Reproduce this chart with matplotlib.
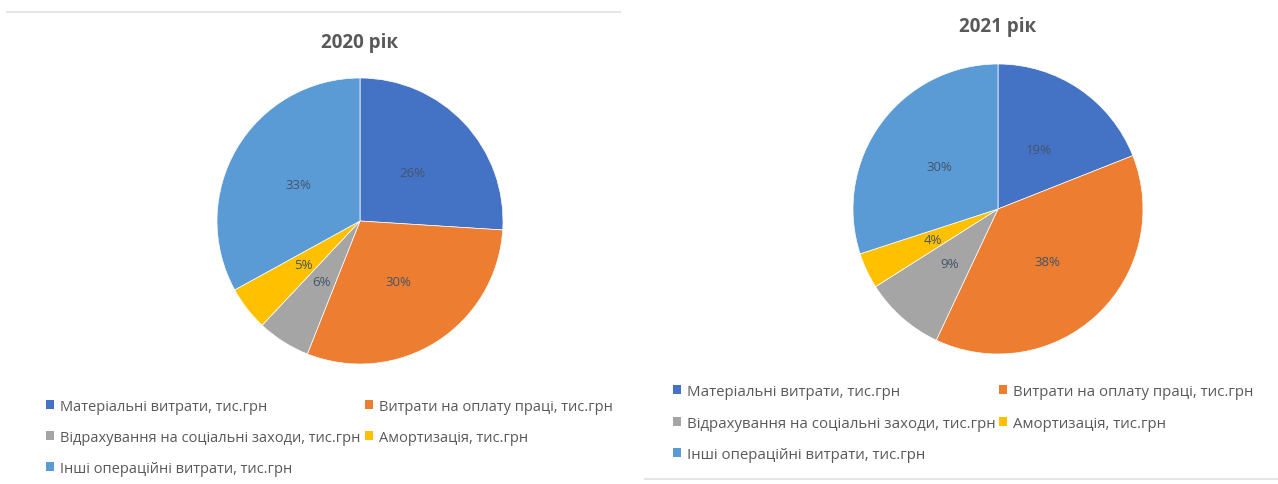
import matplotlib.pyplot as plt
from matplotlib.patches import Patch
from matplotlib.lines import Line2D

plt.rcParams['font.family'] = ['Open Sans', 'DejaVu Sans']

categories = [
    'Матеріальні витрати, тис.грн',
    'Витрати на оплату праці, тис.грн',
    'Відрахування на соціальні заходи, тис.грн',
    'Амортизація, тис.грн',
    'Інші операційні витрати, тис.грн',
]
shares_2020 = [26, 30, 6, 5, 33]
shares_2021 = [19, 38, 9, 4, 30]
titles = ['2020 рік', '2021 рік']

colors = ['#4472C4', '#ED7D31', '#A5A5A5', '#FFC000', '#5B9BD5']
W, H = 1278, 485


def px_axes(fig, cx, cy, r):
    # square axes centred on (cx, cy) in pixel coords (top-left origin)
    return fig.add_axes([(cx - r) / W, (H - cy - r) / H, 2 * r / W, 2 * r / H])


def draw_pie(fig, values, title, cx, cy, r, title_y, legend_at, legend_fs,
             spacing, colspace):
    ax = px_axes(fig, cx, cy, r)
    ax.pie(values, colors=colors, startangle=90, counterclock=False,
           autopct='%d%%', pctdistance=0.5, radius=1.0,
           wedgeprops=dict(linewidth=0.5, edgecolor='white'),
           textprops=dict(color='#44546A', fontsize=9.5))
    ax.set_xlim(-1, 1)
    ax.set_ylim(-1, 1)
    fig.text(cx / W, 1 - title_y / H, title, ha='center', va='center',
             fontsize=13.5, fontweight='bold', color='#595959')

    handles = [Patch(facecolor=c, edgecolor='none') for c in colors]
    order = [0, 2, 4, 1, 3]
    fig.legend([handles[i] for i in order], [categories[i] for i in order],
               ncol=2, loc='upper left',
               bbox_to_anchor=(legend_at[0] / W, 1 - legend_at[1] / H),
               frameon=False, fontsize=legend_fs, labelcolor='#595959',
               handlelength=0.55, handleheight=0.55, handletextpad=0.4,
               columnspacing=colspace, labelspacing=spacing, borderaxespad=0)


fig = plt.figure(figsize=(W / 100, H / 100), dpi=100)

draw_pie(fig, shares_2020, titles[0], 360, 222, 143, 43,
         (40, 394), 10.5, 1.1, 0.35)
draw_pie(fig, shares_2021, titles[1], 998, 210, 145, 27,
         (667, 379), 10.85, 1.1, 0.2)

# thin frame edges of the two chart areas
fig.add_artist(Line2D([7 / W, 620 / W], [1 - 13 / H, 1 - 13 / H],
                      color='#E6E6E6', linewidth=1.5))
fig.add_artist(Line2D([645 / W, 1.0], [1 - 480 / H, 1 - 480 / H],
                      color='#E6E6E6', linewidth=1.5))

fig.savefig('out.png', dpi=100, facecolor='white')
